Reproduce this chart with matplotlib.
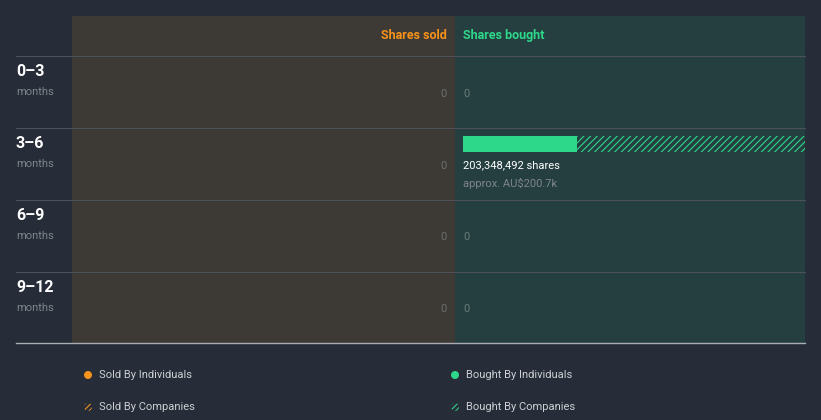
import matplotlib
matplotlib.use("Agg")
import matplotlib.pyplot as plt
from matplotlib.patches import Circle

plt.rcParams['font.family'] = ['Roboto', 'DejaVu Sans']
plt.rcParams['hatch.linewidth'] = 0.8

# data
periods = ["0–3", "3–6", "6–9", "9–12"]
sold_individuals = [0, 0, 0, 0]
sold_companies = [0, 0, 0, 0]
bought_individuals = [0, 67800000, 0, 0]
bought_companies = [0, 135548492, 0, 0]
bought_labels = ["0", "203,348,492 shares", "0", "0"]
bought_value = ["", "approx. AU$200.7k", "", ""]
sold_labels = ["0", "0", "0", "0"]
legend_items = ["Sold By Individuals", "Bought By Individuals",
                "Sold By Companies", "Bought By Companies"]

bg = "#262c38"
sold_bg = "#3d3935"
bought_bg = "#253f41"
orange = "#f7931a"
green = "#2ed88a"
grey = "#80858b"

W, H = 821, 420
fig = plt.figure(figsize=(W / 100, H / 100), dpi=100, facecolor=bg)

def frac(x0, y0, x1, y1):
    return [x0 / W, 1 - y1 / H, (x1 - x0) / W, (y1 - y0) / H]

top = -40 / 72
ax_s = fig.add_axes(frac(72, 16, 455, 343), facecolor=sold_bg)
ax_b = fig.add_axes(frac(455, 16, 805, 343), facecolor=bought_bg)
for a in (ax_s, ax_b):
    a.set_ylim(4, top)
    a.set_xticks([])
    a.set_yticks([])
    for sp in a.spines.values():
        sp.set_visible(False)

# sold panel (right to left)
ax_s.set_xlim(1, -8 / 375)
ax_s.barh([i + 0.222 for i in range(4)], sold_individuals, height=0.222,
          color=orange, align='center')
for i, lab in enumerate(sold_labels):
    ax_s.text(0, i + 0.53, lab, ha='right', va='center', fontsize=8, color="#6e6f70")
ax_s.text(0, top / 2, "Shares sold", ha='right', va='center', fontsize=9,
          fontweight='bold', color=orange)

# bought panel
total = max(a + b for a, b in zip(bought_individuals, bought_companies))
ax_b.set_xlim(-8 / 342 * total, total)
ys = [i + 0.222 for i in range(4)]
ax_b.barh(ys, bought_individuals, height=0.222, color=green, align='center')
ax_b.barh(ys, bought_companies, left=bought_individuals, height=0.222,
          facecolor=bought_bg, edgecolor=green, hatch='/////', linewidth=0, align='center')
for i, lab in enumerate(bought_labels):
    if bought_value[i]:
        ax_b.text(0, i + 0.53, lab, ha='left', va='center', fontsize=8, color="white")
        ax_b.text(0, i + 0.78, bought_value[i], ha='left', va='center', fontsize=8, color=grey)
    else:
        ax_b.text(0, i + 0.53, lab, ha='left', va='center', fontsize=8, color="#6b7b7b")
ax_b.text(0, top / 2, "Shares bought", ha='left', va='center', fontsize=9,
          fontweight='bold', color=green)

# overlay in pixel coords for row labels, grid lines and legend
ov = fig.add_axes([0, 0, 1, 1], facecolor='none', zorder=5)
ov.set_xlim(0, W)
ov.set_ylim(H, 0)
ov.set_axis_off()
for k, p in enumerate(periods):
    y0 = 56 + 72 * k
    ov.plot([16, 805], [y0, y0], color="#4d5258", lw=0.8)
    ov.text(16, y0 + 15, p, ha='left', va='center', fontsize=11.5,
            fontweight='bold', color="white")
    ov.text(16, y0 + 36, "months", ha='left', va='center', fontsize=8, color=grey)
ov.plot([16, 805], [343, 343], color="#a9adb2", lw=1)

pos = [(88, 375), (455, 375), (88, 407), (455, 407)]
cols = [orange, green, orange, green]
for (x, y), lab, c, k in zip(pos, legend_items, cols, range(4)):
    if k < 2:
        ov.add_patch(Circle((x, y), 4, color=c, lw=0))
    else:
        ov.add_patch(Circle((x, y), 4, facecolor=bg, edgecolor=c, hatch='//////', lw=0))
    ov.text(x + 11, y, lab, ha='left', va='center', fontsize=8, color="#cdd0d4")

fig.savefig("out.png", dpi=100, facecolor=bg)
